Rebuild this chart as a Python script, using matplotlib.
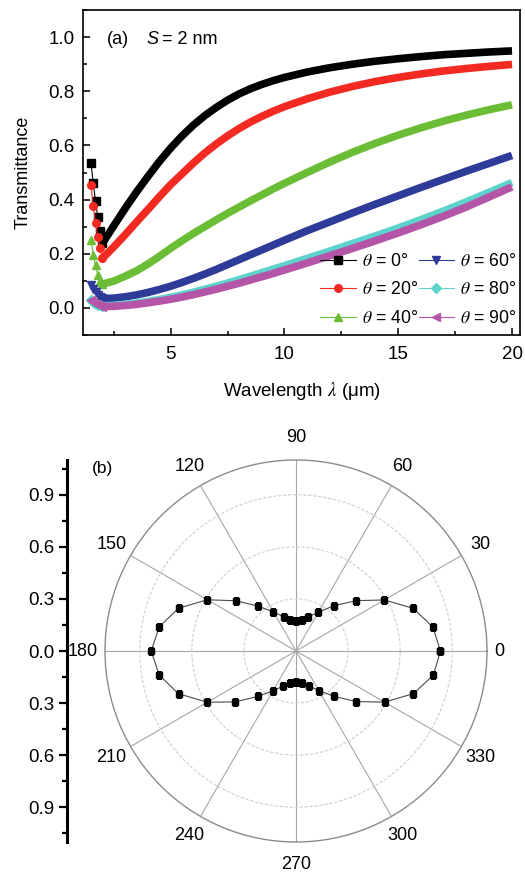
import matplotlib.pyplot as plt
import numpy as np
from matplotlib.ticker import MultipleLocator

plt.rcParams['font.family'] = ['Liberation Sans', 'DejaVu Sans']
plt.rcParams['mathtext.fontset'] = 'stix'

# (a) transmittance spectra for several incidence angles
wavelength = [1.5, 1.6, 1.7, 1.8, 1.9, 2.0, 2.5, 3.0, 3.5, 4.0, 4.5, 5.0, 5.5, 6.0, 6.5,
              7.0, 7.5, 8.0, 8.5, 9.0, 9.5, 10, 11, 12, 13, 14, 15, 16, 17, 18, 19, 20]
t_0 = [0.536, 0.46, 0.395, 0.335, 0.285, 0.238, 0.303, 0.367, 0.428, 0.485, 0.54, 0.59,
       0.635, 0.675, 0.71, 0.74, 0.767, 0.79, 0.809, 0.825, 0.839, 0.851, 0.871, 0.887,
       0.90, 0.911, 0.92, 0.928, 0.935, 0.94, 0.945, 0.949]
t_20 = [0.455, 0.375, 0.315, 0.262, 0.222, 0.183, 0.225, 0.27, 0.317, 0.363, 0.41, 0.455,
        0.495, 0.535, 0.572, 0.605, 0.635, 0.662, 0.686, 0.707, 0.726, 0.743, 0.772, 0.797,
        0.818, 0.836, 0.851, 0.864, 0.875, 0.884, 0.892, 0.899]
t_40 = [0.252, 0.196, 0.157, 0.12, 0.10, 0.088, 0.099, 0.117, 0.137, 0.162, 0.19, 0.22,
        0.248, 0.275, 0.30, 0.325, 0.349, 0.372, 0.395, 0.417, 0.439, 0.46, 0.50, 0.539,
        0.575, 0.608, 0.638, 0.665, 0.69, 0.712, 0.732, 0.75]
t_60 = [0.085, 0.07, 0.058, 0.047, 0.04, 0.035, 0.036, 0.041, 0.048, 0.057, 0.068, 0.08,
        0.094, 0.109, 0.125, 0.142, 0.16, 0.178, 0.196, 0.214, 0.232, 0.25, 0.285, 0.318,
        0.351, 0.383, 0.414, 0.445, 0.475, 0.505, 0.534, 0.563]
t_80 = [0.03, 0.022, 0.016, 0.012, 0.009, 0.008, 0.009, 0.013, 0.018, 0.024, 0.031, 0.039,
        0.048, 0.058, 0.069, 0.08, 0.092, 0.104, 0.117, 0.13, 0.143, 0.156, 0.183, 0.21,
        0.238, 0.266, 0.295, 0.326, 0.358, 0.392, 0.427, 0.463]
t_90 = [0.028, 0.02, 0.014, 0.01, 0.007, 0.005, 0.006, 0.009, 0.013, 0.019, 0.025, 0.032,
        0.04, 0.049, 0.059, 0.069, 0.08, 0.091, 0.103, 0.115, 0.127, 0.14, 0.166, 0.193,
        0.22, 0.248, 0.277, 0.307, 0.339, 0.373, 0.41, 0.447]

series = [t_0, t_20, t_40, t_60, t_80, t_90]
angle_labels = ['0', '20', '40', '60', '80', '90']
colors = ['#000000', '#f22a22', '#6cbd36', '#2f3b98', '#5ed3cb', '#b455a8']
markers = ['s', 'o', '^', 'v', 'D', '<']

# (b) polar dependence
phi_deg = list(range(0, 361, 10))
t_phi = [0.832, 0.80, 0.718, 0.588, 0.451, 0.340, 0.259, 0.209, 0.183, 0.174,
         0.183, 0.21, 0.26, 0.336, 0.45, 0.59, 0.72, 0.80, 0.834,
         0.80, 0.72, 0.59, 0.456, 0.342, 0.264, 0.215, 0.19, 0.181,
         0.19, 0.213, 0.263, 0.341, 0.453, 0.589, 0.719, 0.803, 0.832]

fig = plt.figure(figsize=(5.25, 8.74), dpi=100)

ax = fig.add_axes([83 / 525, 1 - 335 / 874, 437 / 525, 325 / 874])
n_steep = 6
for t, lab, c, m in zip(series, angle_labels, colors, markers):
    ax.plot(wavelength[:n_steep], t[:n_steep], color=c, marker=m, ms=5.5, lw=0.8,
            label=r'$\theta$ = ' + lab + '°')
    ax.plot(wavelength[n_steep - 1:], t[n_steep - 1:], color=c, lw=5.5,
            solid_capstyle='butt', solid_joinstyle='round')

ax.set_xlim(1.15, 20.35)
ax.set_ylim(-0.1, 1.1)
ax.xaxis.set_major_locator(MultipleLocator(5))
ax.xaxis.set_minor_locator(MultipleLocator(2.5))
ax.yaxis.set_major_locator(MultipleLocator(0.2))
ax.yaxis.set_minor_locator(MultipleLocator(0.1))
ax.set_yticks(np.arange(0, 1.01, 0.2))
ax.tick_params(which='both', direction='in', top=False, right=False, labelsize=13.5,
               width=1.1)
ax.tick_params(which='major', length=5)
ax.tick_params(which='minor', length=3)
ax.tick_params(axis='x', pad=8)
ax.tick_params(axis='y', pad=6)
for sp in ax.spines.values():
    sp.set_linewidth(1.2)
ax.set_xlabel(r'Wavelength $\lambda$ (μm)', fontsize=13.5, labelpad=12)
ax.set_ylabel('Transmittance', fontsize=13, labelpad=12)
ax.text(0.055, 0.908, '(a)', transform=ax.transAxes, fontsize=13, va='center')
ax.text(0.146, 0.908, 'S', transform=ax.transAxes, fontsize=13, va='center',
        style='italic')
ax.text(0.181, 0.908, '= 2 nm', transform=ax.transAxes, fontsize=13, va='center')
ax.legend(loc='lower right', bbox_to_anchor=(1.01, 0.0), ncol=2, frameon=False,
          fontsize=12.7, numpoints=1, handlelength=2.0, handletextpad=0.35,
          columnspacing=0.05, labelspacing=0.66, borderaxespad=0.05)

# polar panel
axp = fig.add_axes([105 / 525, 1 - 842 / 874, 382 / 525, 382 / 874], projection='polar')
axp.plot(np.deg2rad(phi_deg), t_phi, color='#4a4a4a', lw=0.8, marker='s', ms=5,
         mfc='k', mec='k')
axp.set_ylim(0, 1.1)
axp.set_yticks([0.3, 0.6, 0.9])
axp.set_yticklabels([])
axp.set_xticks(np.deg2rad(np.arange(0, 360, 30)))
axp.set_xticklabels([])
axp.set_xticks(np.deg2rad(np.arange(15, 360, 30)), minor=True)
axp.tick_params(axis='x', which='major', length=0)
axp.tick_params(axis='x', which='minor', length=4, direction='in', color='#909090')
axp.xaxis.grid(True, color='#a6a6a6', lw=0.8)
axp.yaxis.grid(True, color='#cfcfcf', lw=0.8, ls=(0, (3, 1.5)))
axp.spines['polar'].set_color('#8c8c8c')
axp.spines['polar'].set_linewidth(1.0)

for a in range(0, 360, 30):
    if a == 0:
        axp.text(0, 1.14, '0', ha='left', va='center', fontsize=13)
    elif a == 180:
        axp.text(np.pi, 1.14, '180', ha='right', va='center', fontsize=13)
    else:
        axp.text(np.deg2rad(a), 1.227, str(a), ha='center', va='center', fontsize=13)

# linear radius scale on the left
axl = fig.add_axes([67 / 525, 1 - 842 / 874, 0.0005, 382 / 874])
axl.patch.set_visible(False)
for side in ('right', 'top', 'bottom'):
    axl.spines[side].set_visible(False)
axl.spines['left'].set_linewidth(2.2)
axl.set_xticks([])
axl.set_ylim(-1.1, 1.1)
r_ticks = [-0.9, -0.6, -0.3, 0.0, 0.3, 0.6, 0.9]
axl.set_yticks(r_ticks)
axl.set_yticklabels([f'{abs(v):.1f}' for v in r_ticks])
axl.yaxis.set_minor_locator(MultipleLocator(0.15))
axl.tick_params(axis='y', which='both', direction='out', labelsize=13.5, width=1.6)
axl.tick_params(axis='y', which='major', length=6, pad=3)
axl.tick_params(axis='y', which='minor', length=3.5)
fig.text(92 / 525, 1 - 468 / 874, '(b)', fontsize=12.5, va='center')

fig.savefig('out.png', dpi=100)
